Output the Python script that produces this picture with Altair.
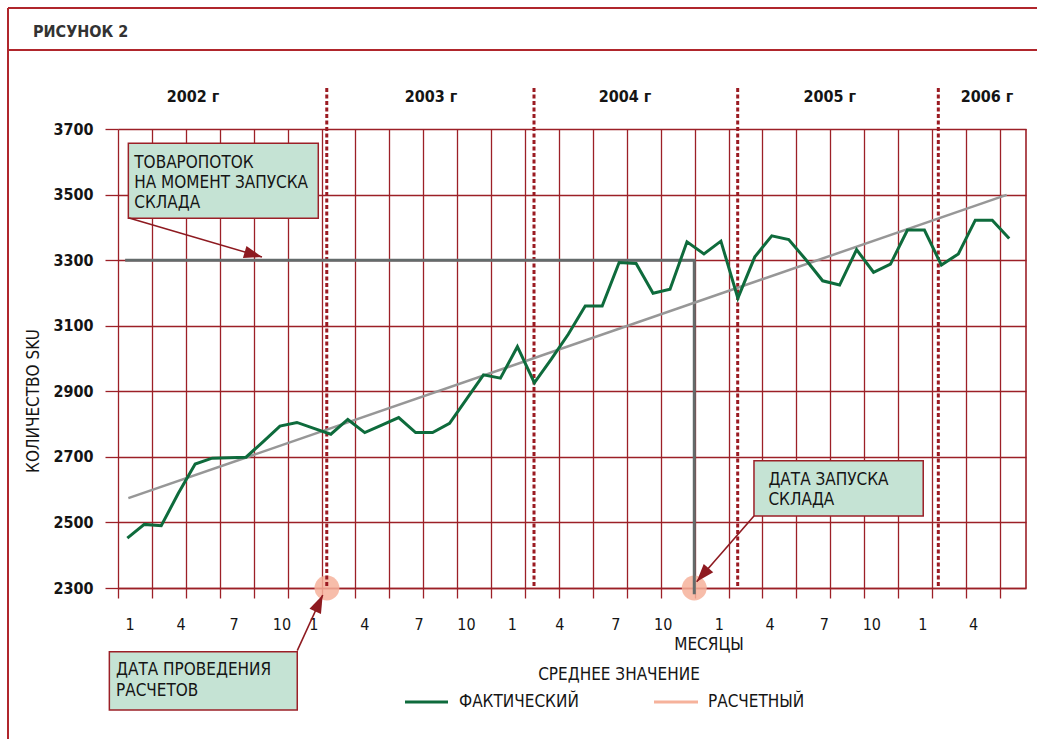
import altair as alt
import pandas as pd

FONT = "'DejaVu Sans Condensed', 'Liberation Sans Narrow', 'Roboto Condensed', sans-serif"
RED = "#9C2027"
DARK_RED = "#8E1A20"
GREEN = "#0E6B3C"
GRAY_TREND = "#979797"
GRAY_DARK = "#646B6B"
PINK = "#F6B29B"
BOX_FILL = "#C5E3D4"
TEXT = "#151515"

# ---------------- data ----------------
months = list(range(1, 54))
actual = [2452, 2494, 2490, 2588, 2678, 2696, 2697, 2699, 2746, 2794, 2805, 2787,
          2769, 2814, 2774, 2797, 2820, 2774, 2774, 2802, 2876, 2950, 2940, 3036,
          2926, 2998, 3074, 3160, 3160, 3293, 3290, 3199, 3211, 3356, 3319, 3358,
          3184, 3310, 3374, 3363, 3302, 3237, 3224, 3332, 3263, 3288, 3392, 3392,
          3285, 3319, 3422, 3422, 3366]
trend_months = [1.06, 52.85]
trend_values = [2574, 3499]

years = ["2002 г", "2003 г", "2004 г", "2005 г", "2006 г"]
year_label_pos = [4.87, 18.91, 30.35, 42.42, 51.69]
year_bounds = [12.76, 24.98, 36.99, 48.82]

tick_labels = ["1", "4", "7", "10"] * 4 + ["1", "4"]
tick_label_pos = [1.16, 4.17, 7.29, 10.12, 12.0, 15.0, 18.2, 21.0, 23.7, 26.5,
                  29.8, 32.6, 35.9, 38.9, 42.1, 44.9, 47.9, 50.9]

grid_pos = [0.45 + 2 * k for k in range(27)]
y_ticks = [2300, 2500, 2700, 2900, 3100, 3300, 3500, 3700]

X_DOMAIN = [0.45, 53.99]
Y_DOMAIN = [2300, 3700]

launch_month = 34.43
launch_flow = 3300
calc_month = 12.77

xs = alt.Scale(domain=X_DOMAIN, nice=False, zero=False)
ys = alt.Scale(domain=Y_DOMAIN, nice=False, zero=False)

X_AXIS = alt.Axis(
    values=grid_pos, grid=True, gridColor=RED, gridWidth=1.3, gridOpacity=1,
    ticks=True, tickColor=RED, tickSize=10, tickWidth=1.3,
    labels=False, domain=True, domainColor=RED, domainWidth=1.6, title=None)
Y_AXIS = alt.Axis(
    values=y_ticks, grid=True, gridColor=RED, gridWidth=1.3, gridOpacity=1,
    ticks=True, tickColor=RED, tickSize=13, tickWidth=1.3,
    labelFont=FONT, labelFontSize=16, labelFontWeight="bold", labelColor=TEXT,
    labelPadding=12, domain=False, title=None, format="d")


def X(field):
    return alt.X(field, type="quantitative", scale=xs, axis=X_AXIS)


def Y(field):
    return alt.Y(field, type="quantitative", scale=ys, axis=Y_AXIS)


one = pd.DataFrame({"a": [0]})

# ---------------- main series ----------------
df_actual = pd.DataFrame({"m": months, "v": actual})
df_trend = pd.DataFrame({"m": trend_months, "v": trend_values})

df_border = pd.DataFrame({"m": [X_DOMAIN[1]], "v1": [Y_DOMAIN[0]], "v2": [Y_DOMAIN[1]]})
right_border = alt.Chart(df_border).mark_rule(color=RED, strokeWidth=1.6).encode(
    x=X("m"), y=Y("v1"), y2="v2")

df_circles = pd.DataFrame({"m": [calc_month, launch_month], "v": [2300, 2300]})
circles = alt.Chart(df_circles).mark_circle(color=PINK, opacity=0.85, size=620).encode(
    x=X("m"), y=Y("v"))

df_bounds = pd.DataFrame({"m": year_bounds, "top": [3825] * 4, "bot": [2300] * 4})
bounds = alt.Chart(df_bounds).mark_rule(color="#9B1B22", strokeWidth=3, strokeDash=[4, 2.5]).encode(
    x=X("m"), y=Y("top"), y2="bot")

df_years = pd.DataFrame({"m": year_label_pos, "v": [3797] * 5, "t": years})
year_text = alt.Chart(df_years).mark_text(font=FONT, fontSize=16, fontWeight=600,
                                          color=TEXT, baseline="middle").encode(
    x=X("m"), y=Y("v"), text="t")

df_ticklab = pd.DataFrame({"m": tick_label_pos, "v": [2187] * len(tick_labels), "t": tick_labels})
tick_text = alt.Chart(df_ticklab).mark_text(font=FONT, fontSize=16, color=TEXT,
                                            baseline="middle").encode(
    x=X("m"), y=Y("v"), text="t")

df_launch = pd.DataFrame({"m": [0.87, launch_month, launch_month],
                          "v": [launch_flow, launch_flow, 2281], "o": [0, 1, 2]})
launch = alt.Chart(df_launch).mark_line(color=GRAY_DARK, strokeWidth=3).encode(
    x=X("m"), y=Y("v"), order="o")

trend = alt.Chart(df_trend).mark_line(color=GRAY_TREND, strokeWidth=2.5).encode(
    x=X("m"), y=Y("v"))

line = alt.Chart(df_actual).mark_line(color=GREEN, strokeWidth=3).encode(
    x=X("m"), y=Y("v"))

# ---------------- annotations ----------------
df_boxes = pd.DataFrame({
    "x1": [1.06, 37.95, -0.06],
    "x2": [12.26, 47.93, 11.02],
    "y1": [3656.4, 2688.3, 2105.7],
    "y2": [3427.6, 2519.6, 1927.9],
})
boxes = alt.Chart(df_boxes).mark_rect(fill=BOX_FILL, stroke=RED, strokeWidth=1.5).encode(
    x=X("x1"), x2="x2", y=Y("y1"), y2="y2")

box_lines = ["ТОВАРОПОТОК", "НА МОМЕНТ ЗАПУСКА", "СКЛАДА",
             "ДАТА ЗАПУСКА", "СКЛАДА",
             "ДАТА ПРОВЕДЕНИЯ", "РАСЧЕТОВ"]
box_line_x = [1.41, 1.41, 1.41, 38.80, 38.80, 0.33, 0.33]
box_line_y = [3596.3, 3535.3, 3472.8, 2629.4, 2568.4, 2049.9, 1985.8]
df_boxtext = pd.DataFrame({"m": box_line_x, "v": box_line_y, "t": box_lines})
box_text = alt.Chart(df_boxtext).mark_text(font=FONT, fontSize=17, color=TEXT,
                                           align="left", baseline="middle").encode(
    x=X("m"), y=Y("v"), text="t")

df_arrows = pd.DataFrame({
    "m1": [1.10, 37.95, 11.02],
    "v1": [3428.5, 2519.6, 2108.8],
    "m2": [8.94, 34.57, 12.52],
    "v2": [3309.6, 2319.2, 2278.6],
    "ang": [16.3, 131.1, 294.5],
})
arrow_lines = alt.Chart(df_arrows).mark_rule(color=DARK_RED, strokeWidth=1.6).encode(
    x=X("m1"), y=Y("v1"), x2="m2", y2="v2")
arrow_heads = alt.Chart(df_arrows).mark_point(
    shape="M0,0L-2,-0.7L-2,0.7Z", filled=True, color=DARK_RED, opacity=1, size=324,
    strokeWidth=0).encode(
    x=X("m2"), y=Y("v2"), angle=alt.Angle("ang:Q", scale=None))


# ---------------- frame, titles, legend (pixel offsets from plot origin) ----------------
def prule(x, y, x2=None, y2=None, color=RED, width=2):
    enc = dict(x=alt.value(x), y=alt.value(y))
    if x2 is not None:
        enc["x2"] = alt.value(x2)
    if y2 is not None:
        enc["y2"] = alt.value(y2)
    return alt.Chart(one).mark_rule(color=color, strokeWidth=width).encode(**enc)


def ptext(txt, x, y, size=17, align="left", weight="normal", angle=0, color=TEXT):
    props = dict(font=FONT, fontSize=size, align=align, baseline="middle",
                 fontWeight=weight, color=color)
    if angle:
        props["angle"] = angle
    return alt.Chart(one).mark_text(**props).encode(
        x=alt.value(x), y=alt.value(y), text=alt.value(txt))


frame = [
    prule(-110, -121, y2=610, color="#B0262C"),
    prule(-110, -121, x2=919, color="#B0262C"),
    prule(-110, -79, x2=919, color="#B0262C"),
]
labels = [
    ptext("РИСУНОК 2", -85, -97, size=16, weight=600, color="#333333"),
    ptext("КОЛИЧЕСТВО SKU", -84, 272, size=17, align="center", angle=270),
    ptext("МЕСЯЦЫ", 591, 516, size=17, align="center"),
    ptext("СРЕДНЕЕ ЗНАЧЕНИЕ", 501, 546, size=17, align="center"),
    ptext("ФАКТИЧЕСКИЙ", 341, 573, size=17),
    ptext("РАСЧЕТНЫЙ", 590, 573, size=17),
]
legend_lines = [
    prule(287, 573, x2=330, color=GREEN, width=3),
    prule(536, 573, x2=580, color=PINK, width=3),
]

chart = alt.layer(
    right_border, circles, bounds, year_text, tick_text,
    launch, trend, line, boxes, box_text, arrow_lines, arrow_heads,
    *frame, *labels, *legend_lines,
).properties(
    width=908, height=459,
    padding={"left": 118, "top": 129, "right": 11, "bottom": 151},
    autosize=alt.AutoSizeParams(type="none"),
    background="white",
).configure_view(stroke=None)

chart.save("out.html", embed_options={"renderer": "svg", "actions": False})
